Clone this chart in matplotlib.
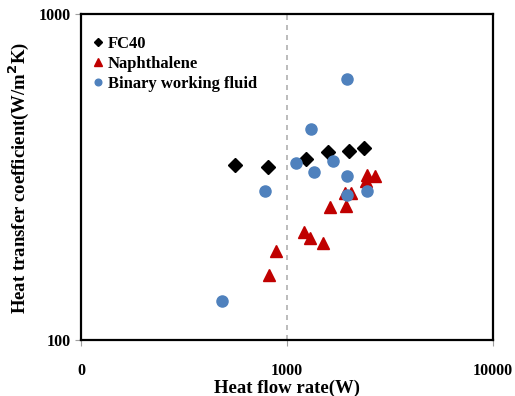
"""Heat transfer coefficient vs heat flow rate, three working fluids."""

import matplotlib
matplotlib.use("Agg")
import matplotlib.pyplot as plt
from matplotlib.ticker import FixedLocator, FixedFormatter, NullLocator

fc40_q = [559, 811, 1232, 1586, 2006, 2364]
fc40_h = [345, 340, 360, 378, 381, 388]

naph_q = [818, 884, 1209, 1293, 1496, 1617, 1934, 1912, 2045, 2418, 2445, 2674]
naph_h = [159, 188, 215, 206, 199, 257, 259, 284, 284, 309, 322, 320]

binary_q = [1956, 1308, 1102, 1678, 1357, 1956, 785, 2432, 1956, 482]
binary_h = [633, 446, 350, 354, 328, 320, 288, 288, 280, 132]

x_ticks = [100, 1000, 10000]
x_labels = ["0", "1000", "10000"]
y_ticks = [100, 1000]
y_labels = ["100", "1000"]

BLUE = "#4F81BD"
RED = "#C00000"

plt.rcParams["font.family"] = ["Liberation Serif", "DejaVu Serif"]

fig = plt.figure(figsize=(5.15, 3.96), dpi=100)
ax = fig.add_axes([0.1573, 0.1402, 0.8, 0.8237])

ax.plot(fc40_q, fc40_h, "D", color="black", ms=7, ls="none", label="FC40")
ax.plot(naph_q, naph_h, "^", color=RED, ms=8.5, ls="none", label="Naphthalene")
ax.plot(binary_q, binary_h, "o", color=BLUE, ms=8, ls="none",
        label="Binary working fluid")

ax.axvline(1000, color="#B0B0B0", ls=(0, (3, 3)), lw=1.2, zorder=0)

ax.set_xscale("log")
ax.set_yscale("log")
ax.set_xlim(100, 10000)
ax.set_ylim(100, 1000)

ax.xaxis.set_major_locator(FixedLocator(x_ticks))
ax.xaxis.set_major_formatter(FixedFormatter(x_labels))
ax.xaxis.set_minor_locator(NullLocator())
ax.yaxis.set_major_locator(FixedLocator(y_ticks))
ax.yaxis.set_major_formatter(FixedFormatter(y_labels))
ax.yaxis.set_minor_locator(NullLocator())

ax.tick_params(axis="x", length=4, color="#A0A0A0", pad=12, labelsize=11.5)
ax.tick_params(axis="y", length=4, color="#A0A0A0", pad=3, labelsize=11.5)
for t in ax.get_xticklabels():
    t.set_fontweight("semibold")
for t in ax.get_yticklabels():
    t.set_fontweight("heavy")

for s in ax.spines.values():
    s.set_color("black")
    s.set_linewidth(1.6)

ax.set_xlabel("Heat flow rate(W)", fontsize=13.5, fontweight="heavy", labelpad=1)
ax.set_ylabel("Heat transfer coefficient(W/m$^\\mathbf{2}$K)", fontsize=13.5,
              fontweight="heavy", labelpad=6)

leg = ax.legend(loc="upper left", bbox_to_anchor=(0.01, 0.955), frameon=False,
                handletextpad=0.15, handlelength=0.8, borderaxespad=0.0,
                labelspacing=0.25, markerscale=0.6,
                prop={"weight": "bold", "size": 12})

fig.savefig("out.png", dpi=100, facecolor="white")
